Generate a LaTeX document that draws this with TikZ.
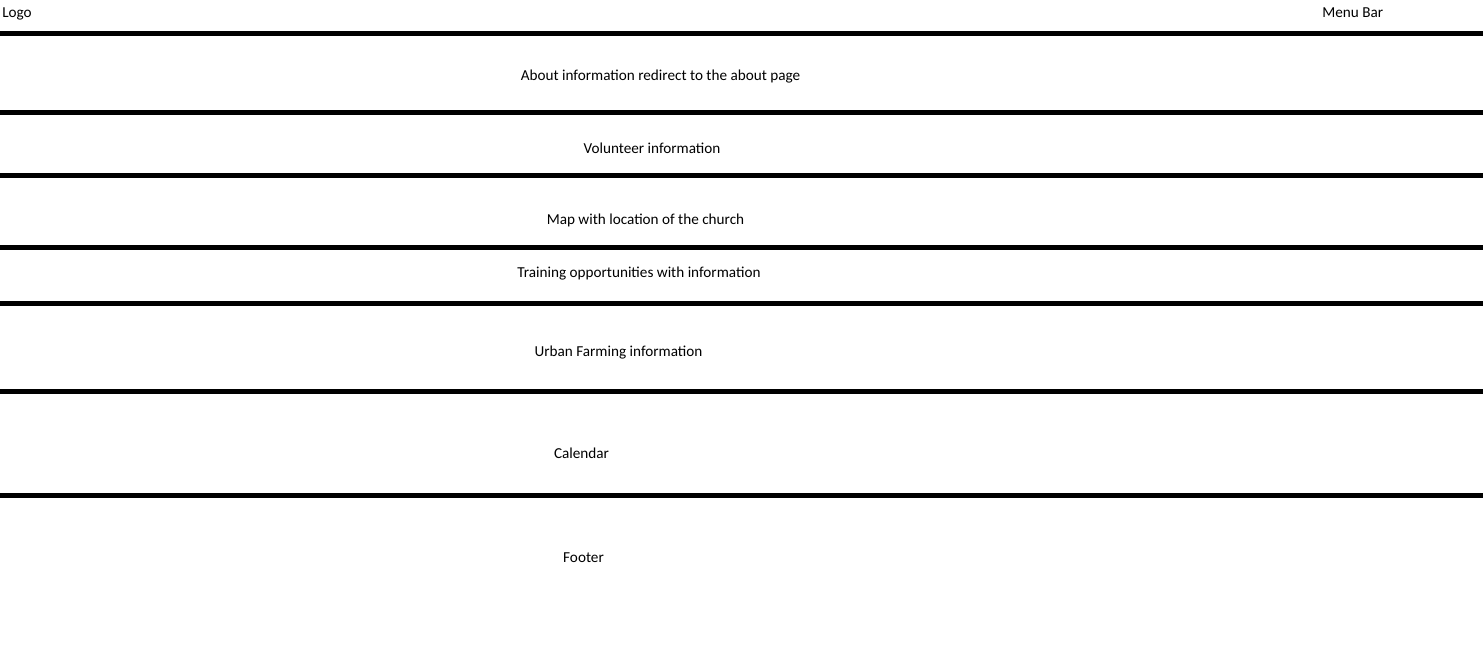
\documentclass[tikz,border=0pt]{standalone}
\usepackage{fontspec}
\setmainfont{Carlito}
\begin{document}
\begin{tikzpicture}[x=0.75pt,y=-0.75pt,every node/.style={font=\fontsize{11.4}{13}\selectfont,inner sep=0pt}]
			\useasboundingbox (0,0) rectangle (1483,646);
			
			\node[anchor=west] (logo) at (2,13.5) {Logo};
			\node[anchor=west] (menu) at (1322,13) {Menu Bar};
			
			\foreach \y in {33.5,112.5,175,247,303.5,391,495}
				\draw[line width=3.75pt] (0,\y)--(1483,\y);
			
			\node (about) at (660.5,77) {About information redirect to the about page};
			\node (vol) at (652,148.5) {Volunteer information};
			\node (map) at (645.5,220.5) {Map with location of the church};
			\node (train) at (639,273.5) {Training opportunities with information};
			\node (farm) at (618.5,352.5) {Urban Farming information};
			\node (cal) at (581.5,453.5) {Calendar};
			\node (foot) at (583.5,557.5) {Footer};
		\end{tikzpicture}
\end{document}
